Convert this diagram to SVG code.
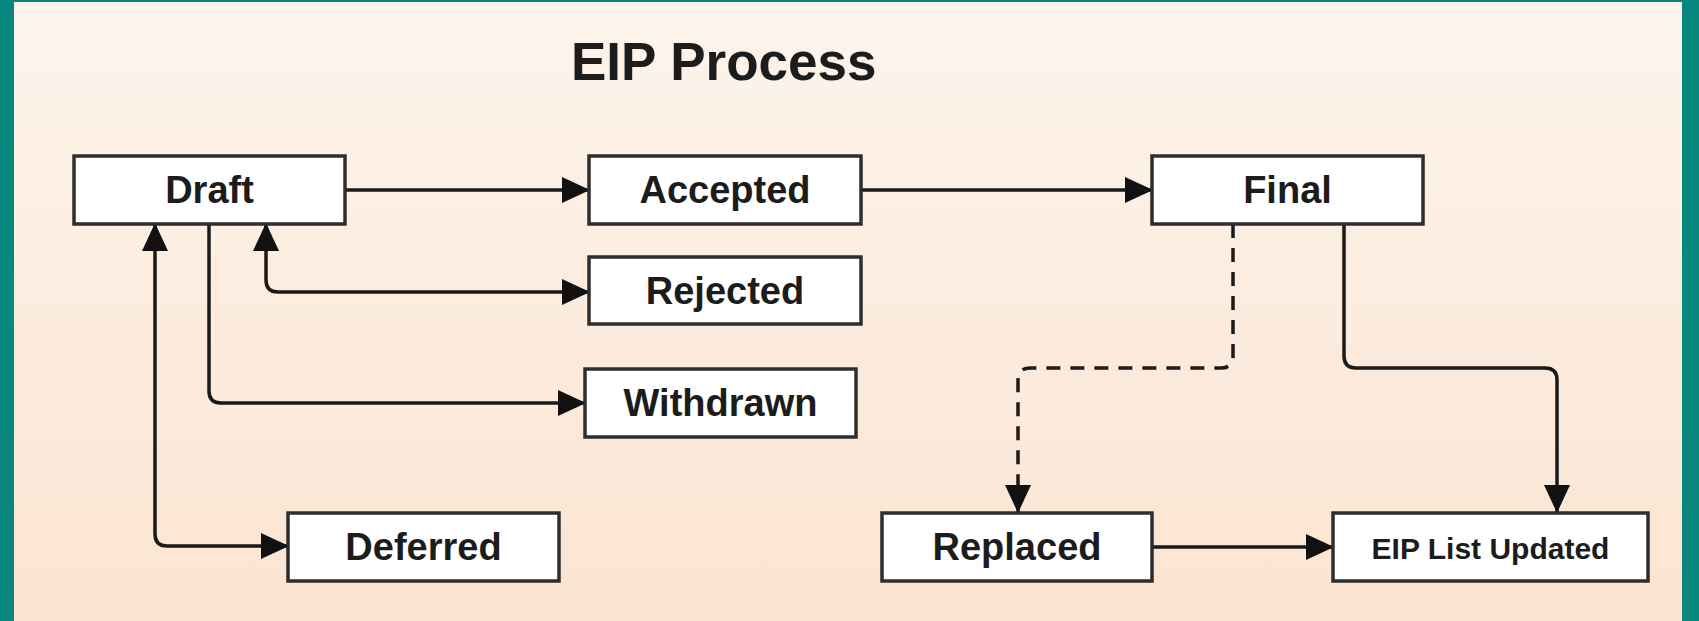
<svg xmlns="http://www.w3.org/2000/svg" width="1699" height="621" viewBox="0 0 1699 621">
  <defs>
    <linearGradient id="bg" x1="0" y1="0" x2="0" y2="1">
      <stop offset="0" stop-color="#fdf4ec"/>
      <stop offset="1" stop-color="#fbe4d1"/>
    </linearGradient>
    <marker id="arr" markerUnits="userSpaceOnUse" markerWidth="28" markerHeight="26" refX="27" refY="13" orient="auto-start-reverse">
      <path d="M0,0 L28,13 L0,26 z" fill="#111"/>
    </marker>
    <style>
      .box { fill: #ffffff; stroke: #2e2e2e; stroke-width: 3.5; }
      .lbl { font-family: "Liberation Sans", Arial, sans-serif; font-weight: bold; font-size: 38px; fill: #1c1c1c; text-anchor: middle; dominant-baseline: central; }
      .small { font-size: 30px; }
      .con { fill: none; stroke: #1a1a1a; stroke-width: 3.5; }
      .dash { stroke-dasharray: 14 10; }
    </style>
  </defs>

  <rect x="0" y="0" width="1699" height="621" fill="#07877e"/>
  <rect x="14" y="2" width="1668" height="619" fill="url(#bg)"/>

  <text x="571" y="80" font-family="Liberation Sans, Arial, sans-serif" font-weight="bold" font-size="53" fill="#1c1c1c">EIP Process</text>

  <g id="connectors">
    <path class="con" d="M345,190 H589" marker-end="url(#arr)"/>
    <path class="con" d="M861,190 H1152" marker-end="url(#arr)"/>
    <path class="con" d="M266,224 V280 Q266,292 278,292 H589" marker-start="url(#arr)" marker-end="url(#arr)"/>
    <path class="con" d="M209,224 V391 Q209,403 221,403 H585" marker-end="url(#arr)"/>
    <path class="con" d="M155,224 V534 Q155,546 167,546 H288" marker-start="url(#arr)" marker-end="url(#arr)"/>
    <path class="con dash" d="M1233,224 V356 Q1233,368 1221,368 H1030 Q1018,368 1018,380 V512" marker-end="url(#arr)"/>
    <path class="con" d="M1344,224 V356 Q1344,368 1356,368 H1545 Q1557,368 1557,380 V512" marker-end="url(#arr)"/>
    <path class="con" d="M1152,547 H1333" marker-end="url(#arr)"/>
  </g>

  <g id="draft">
    <rect class="box" x="74" y="156" width="271" height="68"/>
    <text class="lbl" x="209.5" y="190">Draft</text>
  </g>
  <g id="accepted">
    <rect class="box" x="589" y="156" width="272" height="68"/>
    <text class="lbl" x="725" y="190">Accepted</text>
  </g>
  <g id="final">
    <rect class="box" x="1152" y="156" width="271" height="68"/>
    <text class="lbl" x="1287.5" y="190">Final</text>
  </g>
  <g id="rejected">
    <rect class="box" x="589" y="257" width="272" height="67"/>
    <text class="lbl" x="725" y="290.5">Rejected</text>
  </g>
  <g id="withdrawn">
    <rect class="box" x="585" y="369" width="271" height="68"/>
    <text class="lbl" x="720.5" y="403">Withdrawn</text>
  </g>
  <g id="deferred">
    <rect class="box" x="288" y="513" width="271" height="68"/>
    <text class="lbl" x="423.5" y="547">Deferred</text>
  </g>
  <g id="replaced">
    <rect class="box" x="882" y="513" width="270" height="68"/>
    <text class="lbl" x="1017" y="547">Replaced</text>
  </g>
  <g id="eip-list-updated">
    <rect class="box" x="1333" y="513" width="315" height="68"/>
    <text class="lbl small" x="1490.5" y="548">EIP List Updated</text>
  </g>
</svg>
